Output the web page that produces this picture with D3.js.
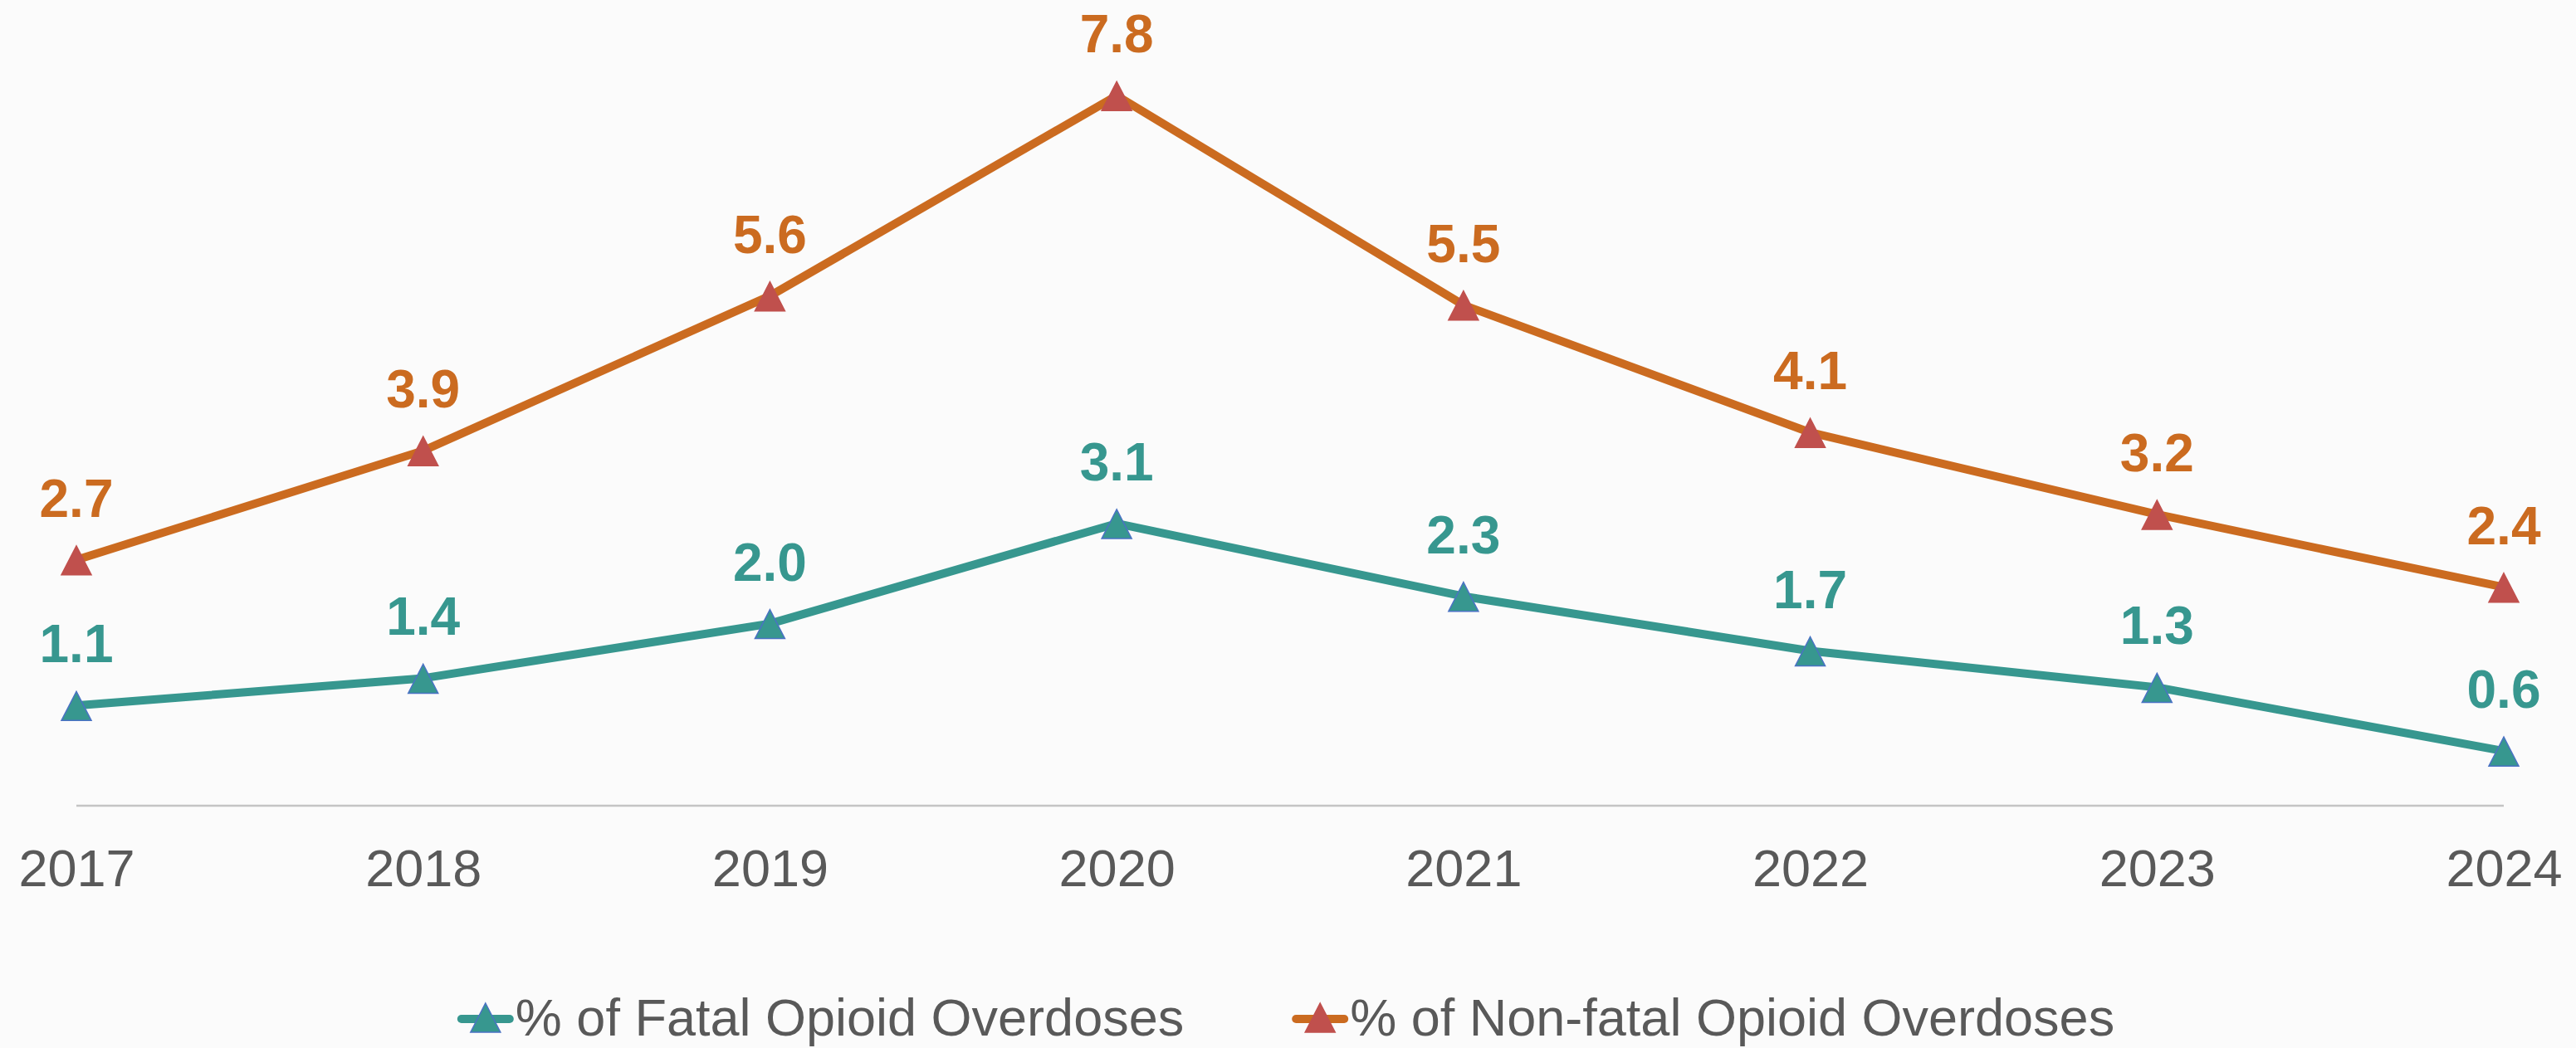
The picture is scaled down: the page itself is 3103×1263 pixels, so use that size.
<!DOCTYPE html>
<html>
<head>
<meta charset="utf-8">
<script src="https://cdn.jsdelivr.net/npm/d3@7"></script>
<style>
  html, body { margin: 0; padding: 0; background: #fbfbfb; }
  svg { display: block; font-family: Arial, "Liberation Sans", sans-serif; }
</style>
</head>
<body>
<svg id="chart"></svg>
<script>
const years = ["2017", "2018", "2019", "2020", "2021", "2022", "2023", "2024"];
const fatal = [1.1, 1.4, 2.0, 3.1, 2.3, 1.7, 1.3, 0.6];
const nonFatal = [2.7, 3.9, 5.6, 7.8, 5.5, 4.1, 3.2, 2.4];
const seriesNames = ["% of Fatal Opioid Overdoses", "% of Non-fatal Opioid Overdoses"];

const width = 3103, height = 1263;
const svg = d3.select("#chart").attr("width", width).attr("height", height);

svg.append("rect").attr("width", width).attr("height", height).attr("fill", "#fbfbfb");

const x = d3.scalePoint().domain(years).range([92, 3016]);
const y = d3.scaleLinear().domain([0, 8]).range([971, 93.4]);

const series = [
	{ name: seriesNames[0], values: fatal, line: "#37978f", marker: "#37978f", markerStroke: "#4a72c4", label: "#37978f" },
	{ name: seriesNames[1], values: nonFatal, line: "#cb6b20", marker: "#c0504d", markerStroke: "#c0504d", label: "#cb6b20" }
];

// baseline axis
svg.append("line")
	.attr("x1", x(years[0]))
	.attr("x2", x(years[years.length - 1]))
	.attr("y1", y(0))
	.attr("y2", y(0))
	.attr("stroke", "#c4c4c4")
	.attr("stroke-width", 2.5);

// year labels
const xAxis = d3.axisBottom(x).tickSize(0).tickPadding(0);
const axisG = svg.append("g")
	.attr("transform", `translate(0, ${y(0)})`)
	.call(xAxis);
axisG.select(".domain").remove();
axisG.selectAll("text")
	.attr("y", 97)
	.attr("dy", null)
	.attr("font-size", 63)
	.attr("font-family", "Arial, 'Liberation Sans', sans-serif")
	.attr("fill", "#595959");

const line = d3.line()
	.x((d, i) => x(years[i]))
	.y(d => y(d));

// triangle marker, a bit taller than equilateral
const tri = "M0,-19L18,16L-18,16Z";

series.forEach(s => {
	const g = svg.append("g");
	g.append("path")
		.attr("d", line(s.values))
		.attr("fill", "none")
		.attr("stroke", s.line)
		.attr("stroke-width", 10)
		.attr("stroke-linejoin", "round");

	g.selectAll(".marker")
		.data(s.values)
		.enter()
		.append("path")
		.attr("d", tri)
		.attr("transform", (d, i) => `translate(${x(years[i])}, ${y(d) + 2})`)
		.attr("fill", s.marker)
		.attr("stroke", s.markerStroke)
		.attr("stroke-width", 1.5);

	g.selectAll(".lbl")
		.data(s.values)
		.enter()
		.append("text")
		.attr("x", (d, i) => x(years[i]))
		.attr("y", d => y(d) - 52)
		.attr("text-anchor", "middle")
		.attr("font-size", 64)
		.attr("font-weight", "bold")
		.attr("fill", s.label)
		.text(d => d.toFixed(1));
});

// legend
const legend = svg.append("g");
const lineLen = 58, textGap = 7, itemGap = 135;
let cursor = 0;
series.forEach(s => {
	const item = legend.append("g").attr("transform", `translate(${cursor}, 0)`);
	item.append("line")
		.attr("x1", 0).attr("x2", lineLen)
		.attr("y1", 0).attr("y2", 0)
		.attr("stroke", s.line)
		.attr("stroke-width", 10)
		.attr("stroke-linecap", "round");
	item.append("path")
		.attr("d", tri)
		.attr("transform", `translate(${lineLen / 2}, 0)`)
		.attr("fill", s.marker)
		.attr("stroke", s.markerStroke)
		.attr("stroke-width", 1.5);
	const t = item.append("text")
		.attr("x", lineLen + textGap)
		.attr("y", 20)
		.attr("font-size", 63)
		.attr("fill", "#595959")
		.text(s.name);
	cursor += lineLen + textGap + t.node().getComputedTextLength() + itemGap;
});
const legendWidth = cursor - itemGap;
legend.attr("transform", `translate(${(width - legendWidth) / 2}, 1228)`);
</script>
</body>
</html>
